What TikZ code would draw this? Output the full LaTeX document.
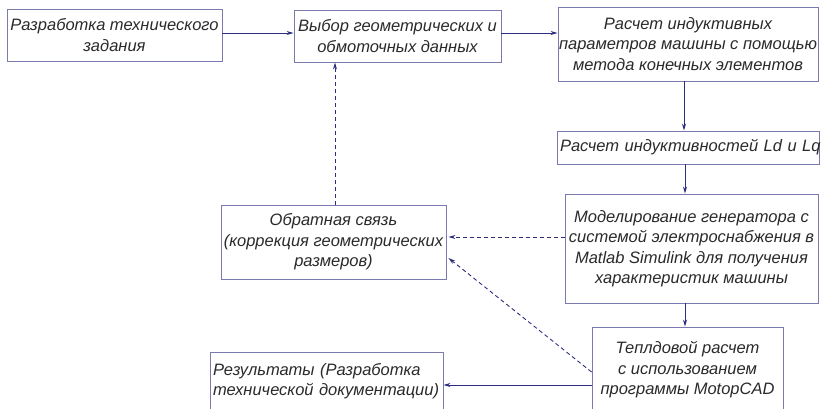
\documentclass[tikz,border=0pt]{standalone}
\usepackage{fontspec}
\setmainfont{Liberation Sans}
\usetikzlibrary{arrows.meta,calc}
\definecolor{linecol}{HTML}{2E2E7E}
\definecolor{boxcol}{HTML}{7A7AAE}
\definecolor{txtcol}{HTML}{2A2A2A}
\tikzset{
  box/.style={draw=boxcol, line width=0.9pt, rectangle, inner sep=0pt, align=center,
    text=txtcol, font=\fontsize{16.5}{20.5}\selectfont\itshape},
  flow/.style={draw=linecol, line width=0.9pt, -{Stealth[length=7pt,width=4pt]}},
  fb/.style={flow, dash pattern=on 4pt off 3pt}
}
\begin{document}
\begin{tikzpicture}[x=1pt,y=-1pt]
\useasboundingbox (0,0) rectangle (821,408);
\clip (0,0) rectangle (821,408);
\fill[white] (0,0) rectangle (821,408);
\node[box, minimum width=215pt, minimum height=52pt] (a) at (114.5,35) {Разработка технического\\задания};
\node[box, minimum width=207pt, minimum height=52pt] (b) at (397.5,36) {Выбор геометрических и\\обмоточных данных};
\node[box, minimum width=260pt, minimum height=74pt] (c) at (688,44) {Расчет индуктивных\\параметров машины с помощью\\метода конечных элементов};
\node[box, minimum width=262pt, minimum height=33pt, align=left, text width=256pt] (d) at (688,147.5) {\makebox[256pt][l]{Расчет индуктивностей Ld и Lq}};
\node[box, minimum width=253pt, minimum height=109pt] (e) at (691.5,248.5) {Моделирование генератора с\\системой электроснабжения в\\Matlab Simulink для получения\\характеристик машины};
\node[box, minimum width=225pt, minimum height=74pt] (f) at (333.5,242) {Обратная связь\\(коррекция геометрических\\размеров)};
\node[box, minimum width=191pt, minimum height=86pt] (g) at (687.5,370) {Теплдовой расчет\\с использованием\\программы MotopCAD};
\node[box, minimum width=233pt, minimum height=58pt, align=left, text width=227pt] (h) at (326.5,381) {Результаты (Разработка\\технической документации)};
\coordinate (bin) at ($(b.east)+(0,-3)$);
\coordinate (gout) at ($(g.west)+(0,15)$);
\coordinate (eout) at ($(e.west)+(0,-11.5)$);
\coordinate (gfb) at ($(g.west)+(0,2)$);
\coordinate (ffb) at ($(f.east)+(2,16)$);
\draw[flow] ($(a.east)+(0,-2)$) -- ($(b.west)+(0,-3)$);
\draw[flow] (bin) -- (bin -| c.west);
\draw[flow] (c.south -| 684,0) -- (d.north -| 684,0);
\draw[flow] (d.south -| 685,0) -- (e.north -| 685,0);
\draw[flow] (e.south -| 685,0) -- (g.north -| 685,0);
\draw[flow] (gout) -- (gout -| h.east);
\draw[fb] (eout) -- ($(eout -| f.east)+(2,0)$);
\draw[fb] (gfb) -- (ffb);
\draw[fb] (f.north -| 335,0) -- (b.south -| 335,0);
\end{tikzpicture}
\end{document}
